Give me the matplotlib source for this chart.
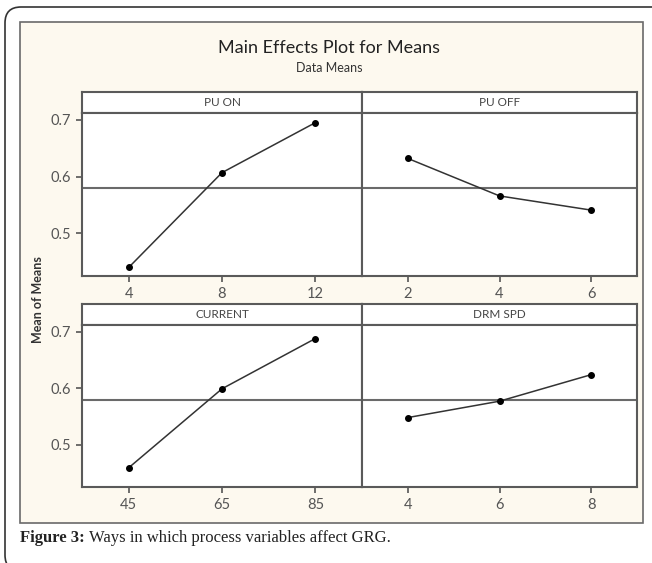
import matplotlib
matplotlib.use("Agg")
import matplotlib.pyplot as plt
from matplotlib.patches import FancyBboxPatch, Rectangle

# %% data
factors = ["PU ON", "PU OFF", "CURRENT", "DRM SPD"]
levels = [["4", "8", "12"], ["2", "4", "6"], ["45", "65", "85"], ["4", "6", "8"]]
pu_on = [0.440, 0.607, 0.695]
pu_off = [0.632, 0.566, 0.541]
current = [0.459, 0.599, 0.688]
drm_spd = [0.548, 0.577, 0.624]
means = [pu_on, pu_off, current, drm_spd]
grand_mean = 0.58
yticks = [0.5, 0.6, 0.7]

W, H = 652, 563
fig = plt.figure(figsize=(W / 100, H / 100), dpi=100)
plt.rcParams["font.family"] = ["Lato", "DejaVu Sans"]


def box(x0, y0, x1, y1):
    # pixel box (top-left origin) -> figure fraction
    return [x0 / W, 1 - y1 / H, (x1 - x0) / W, (y1 - y0) / H]


# %% background layer: rounded outer frame, cream inner frame
bg = fig.add_axes([0, 0, 1, 1], zorder=-5)
bg.set_xlim(0, W)
bg.set_ylim(H, 0)
bg.axis("off")
bg.add_patch(FancyBboxPatch((5, 7), 700, 564, boxstyle="round,pad=0,rounding_size=16",
                            fc="white", ec="#333333", lw=1.2))
bg.add_patch(Rectangle((20, 22), 623, 501, fc="#fdf9ef", ec="#6a6a6a", lw=1.2))
bg.text(329, 48, "Main Effects Plot for Means", ha="center", va="center",
        fontsize=13, color="#222222")
bg.text(329, 68, "Data Means", ha="center", va="center", fontsize=9, color="#333333")
bg.text(38, 300, "Mean of Means", ha="center", va="center", rotation=90,
        fontsize=9, fontweight="bold", color="#333333")

# caption
cap = bg.text(20, 538, "Figure 3:", ha="left", va="center", fontsize=12,
              fontweight="bold", family="Liberation Serif", color="#222222")
fig.canvas.draw()
bb = cap.get_window_extent()
x_end = bb.x1 / fig.dpi * 100
bg.text(x_end + 4, 538, "Ways in which process variables affect GRG.", ha="left",
        va="center", fontsize=12, family="Liberation Serif", color="#222222")

# %% panels
cols = [(82, 362), (362, 637)]
rows = [(92, 113, 276), (304, 325, 487)]
edge = "#5a5a5a"

for i, name in enumerate(factors):
    r, c = divmod(i, 2)
    x0, x1 = cols[c]
    s0, a0, a1 = rows[r]

    strip = fig.add_axes(box(x0, s0, x1, a0))
    strip.set_xticks([])
    strip.set_yticks([])
    strip.set_facecolor("white")
    for sp in strip.spines.values():
        sp.set_color(edge)
        sp.set_linewidth(1.5)
    strip.text(0.5, 0.5, name, ha="center", va="center", fontsize=8.5,
               color="#444444", transform=strip.transAxes)

    ax = fig.add_axes(box(x0, a0, x1, a1))
    xs = range(len(levels[i]))
    ax.axhline(grand_mean, color="#6a6a6a", lw=1.5, zorder=1)
    ax.plot(xs, means[i], color="#333333", lw=1.1, marker="o", ms=4,
            mfc="black", mec="black", zorder=3)
    ax.set_xlim(-0.5, 2.5)
    ax.set_ylim(0.425, 0.712)
    ax.set_xticks(list(xs))
    ax.set_xticklabels(levels[i])
    ax.set_yticks(yticks)
    if c == 0:
        ax.set_yticklabels([f"{t:.1f}" for t in yticks])
    else:
        ax.tick_params(axis="y", left=False, labelleft=False)
    ax.tick_params(direction="out", length=4, width=1.2, color="#555555",
                   labelsize=10.5, labelcolor="#555555", pad=4)
    for sp in ax.spines.values():
        sp.set_color(edge)
        sp.set_linewidth(1.5)
    ax.set_facecolor("white")

fig.savefig("out.png", dpi=100)
